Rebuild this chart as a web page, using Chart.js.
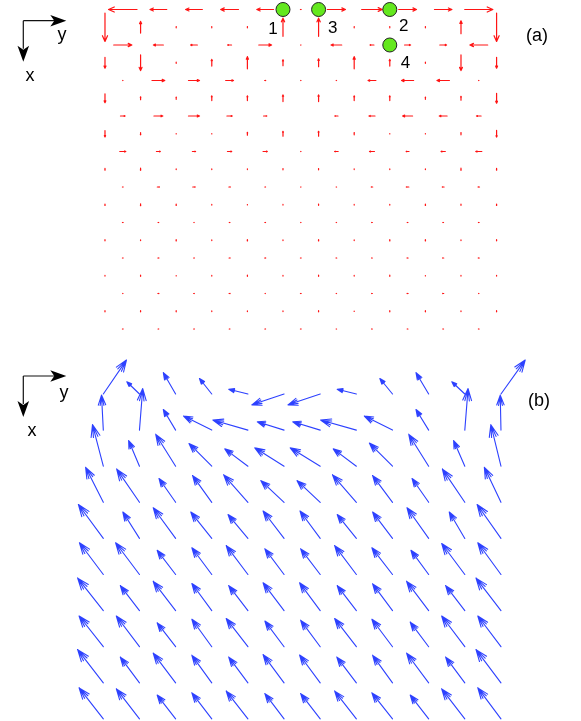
<!DOCTYPE html>
<html>
<head>
<meta charset="utf-8">
<script src="https://cdn.jsdelivr.net/npm/chart.js@4.4.0/dist/chart.umd.min.js"></script>
<style>
html, body { margin: 0; padding: 0; background: #fff; }
body { width: 581px; height: 721px; position: relative; overflow: hidden; font-family: "Liberation Sans", Arial, sans-serif; }
.panel { position: absolute; left: 0; width: 581px; }
#panelA { top: 0; height: 340px; }
#panelB { top: 340px; height: 381px; }
.lbl { position: absolute; font-size: 18px; line-height: 1; color: #000; white-space: nowrap; transform: translateX(-50%); }
.num { position: absolute; font-size: 17px; line-height: 1; color: #000; white-space: nowrap; transform: translate(-50%, -50%); }
</style>
</head>
<body>
<div class="panel" id="panelA"><canvas id="chartA" width="581" height="340"></canvas></div>
<div class="panel" id="panelB"><canvas id="chartB" width="581" height="381"></canvas></div>

<div class="lbl" style="left:62px; top:25px;">y</div>
<div class="lbl" style="left:30px; top:66px;">x</div>
<div class="lbl" style="left:537px; top:26px;">(a)</div>
<div class="lbl" style="left:64px; top:383px;">y</div>
<div class="lbl" style="left:32px; top:421px;">x</div>
<div class="lbl" style="left:539px; top:391px;">(b)</div>

<script>
// (a) staggered grid, lid-driven cavity
// horizontal component (along y) on rows 0,2,4,... at half columns
const vyA = [
    [-0.80, -0.47, -0.47, -0.50, -0.47, 0.02, 0.51, 0.58, 0.50, 0.49, 0.79],
    [0.51, -0.28, -0.19, -0.11, 0.36, 0.01, -0.30, -0.11, 0.17, 0.19, -0.50],
    [0.01, 0.36, 0.31, 0.22, 0.03, 0.01, -0.01, -0.22, -0.34, -0.35, -0.01],
    [0.13, 0.25, 0.31, 0.15, 0.09, 0.00, -0.09, -0.17, -0.28, -0.22, -0.13],
    [0.17, 0.11, 0.09, 0.12, 0.12, 0.01, -0.10, -0.14, -0.08, -0.12, -0.17],
    [0.02, 0.06, 0.07, 0.04, 0.02, 0.01, -0.01, -0.04, -0.07, -0.05, -0.04],
    [0.02, 0.02, 0.01, 0.02, 0.02, 0.01, -0.01, -0.02, -0.02, -0.02, -0.02],
    [0.02, 0.03, 0.02, 0.03, 0.03, 0.02, -0.02, -0.02, -0.03, -0.03, -0.03],
    [0.01, 0.03, 0.02, 0.03, 0.01, 0.02, -0.01, -0.02, -0.03, -0.03, -0.01],
    [0.02, 0.02, 0.02, 0.02, 0.02, 0.02, -0.01, -0.02, -0.02, -0.02, -0.02]
];
// vertical component (along x, downwards) on rows 1,3,5,... at whole columns
const vxA = [
    [0.80, -0.33, -0.03, -0.03, -0.03, -0.51, -0.51, -0.03, -0.03, -0.03, -0.36, 0.80],
    [0.31, 0.44, 0.03, -0.19, -0.34, -0.17, -0.22, -0.34, -0.19, 0.03, 0.44, 0.31],
    [0.25, -0.08, -0.06, -0.13, -0.13, -0.19, -0.19, -0.13, -0.13, -0.06, -0.11, 0.28],
    [0.18, 0.06, 0.01, 0.01, -0.08, -0.14, -0.14, -0.06, 0.01, 0.01, -0.06, 0.19],
    [0.05, 0.06, 0.02, 0.02, -0.02, -0.03, -0.03, -0.02, 0.02, 0.02, 0.06, 0.05],
    [0.04, 0.05, 0.04, 0.02, -0.01, -0.02, -0.03, -0.02, 0.02, 0.04, 0.03, 0.04],
    [0.03, 0.02, 0.04, 0.02, 0.04, 0.02, 0.04, 0.02, 0.04, 0.04, 0.02, 0.03],
    [0.02, 0.03, 0.01, 0.02, 0.03, 0.02, 0.03, 0.02, 0.03, 0.01, 0.02, 0.02],
    [0.03, 0.03, 0.03, 0.02, 0.02, 0.02, 0.03, 0.01, 0.03, 0.03, 0.02, 0.03]
];
// probe points
const markerNames = ['1', '2', '3', '4'];
const markerCols = [5, 8, 6, 8];
const markerRows = [0, 0, 0, 1];

// (b) collocated grid, 10 rows x 12 columns
const vyB = [
    [0.64, -0.35, -0.34, -0.34, -0.53, -0.89, -0.89, -0.53, -0.35, -0.35, -0.36, 0.67],
    [-0.05, 0.09, -0.34, -0.78, -0.97, -0.74, -0.76, -0.99, -0.78, -0.35, 0.09, -0.02],
    [-0.30, -0.30, -0.55, -0.63, -0.64, -0.81, -0.83, -0.64, -0.64, -0.55, -0.31, -0.28],
    [-0.49, -0.63, -0.46, -0.53, -0.67, -0.64, -0.64, -0.66, -0.55, -0.46, -0.62, -0.46],
    [-0.69, -0.46, -0.62, -0.58, -0.55, -0.58, -0.56, -0.53, -0.55, -0.60, -0.43, -0.66],
    [-0.66, -0.66, -0.51, -0.55, -0.60, -0.53, -0.54, -0.60, -0.57, -0.49, -0.64, -0.64],
    [-0.71, -0.53, -0.62, -0.55, -0.53, -0.58, -0.57, -0.53, -0.55, -0.61, -0.53, -0.69],
    [-0.67, -0.64, -0.51, -0.55, -0.60, -0.53, -0.54, -0.60, -0.57, -0.51, -0.64, -0.64],
    [-0.71, -0.53, -0.62, -0.55, -0.53, -0.58, -0.57, -0.54, -0.55, -0.61, -0.53, -0.69],
    [-0.67, -0.64, -0.51, -0.55, -0.60, -0.53, -0.54, -0.60, -0.57, -0.51, -0.64, -0.64]
];
const vxB = [
    [-0.94, -0.34, -0.59, -0.43, -0.13, 0.30, 0.30, -0.13, -0.43, -0.59, -0.34, -0.94],
    [-0.97, -1.15, -0.57, -0.39, -0.28, -0.23, -0.23, -0.28, -0.39, -0.57, -1.15, -0.97],
    [-1.15, -0.71, -0.88, -0.63, -0.48, -0.51, -0.51, -0.48, -0.64, -0.88, -0.71, -1.15],
    [-0.97, -0.92, -0.66, -0.74, -0.76, -0.60, -0.60, -0.76, -0.74, -0.66, -0.92, -0.97],
    [-0.94, -0.73, -0.85, -0.73, -0.66, -0.76, -0.76, -0.66, -0.73, -0.85, -0.73, -0.94],
    [-0.88, -0.88, -0.67, -0.74, -0.80, -0.71, -0.71, -0.80, -0.74, -0.67, -0.86, -0.88],
    [-0.90, -0.69, -0.81, -0.75, -0.69, -0.77, -0.77, -0.69, -0.74, -0.81, -0.69, -0.90],
    [-0.85, -0.85, -0.66, -0.76, -0.78, -0.71, -0.73, -0.78, -0.76, -0.68, -0.85, -0.85],
    [-0.92, -0.71, -0.82, -0.76, -0.71, -0.78, -0.77, -0.71, -0.76, -0.82, -0.71, -0.92],
    [-0.86, -0.83, -0.66, -0.72, -0.77, -0.70, -0.70, -0.77, -0.72, -0.66, -0.83, -0.86]
];

// label placement next to the probe points (px)
const markerOffsets = { '1': [-10, 18.5], '2': [14, 15.5], '3': [14.2, 17.7], '4': [15.7, 16.7] };

function drawArrow(ctx, x0, y0, x1, y1, q) {
    const len = Math.hypot(x1 - x0, y1 - y0);
    if (len < 0.01) return;
    const a = Math.atan2(y1 - y0, x1 - x0);
    const h = len * q.head;
    ctx.beginPath();
    ctx.moveTo(x0, y0);
    ctx.lineTo(x1, y1);
    q.angles.forEach(ang => {
        ctx.moveTo(x1 - h * Math.cos(a - ang), y1 - h * Math.sin(a - ang));
        ctx.lineTo(x1, y1);
        ctx.lineTo(x1 - h * Math.cos(a + ang), y1 - h * Math.sin(a + ang));
    });
    ctx.stroke();
}

// draws every point of a dataset that has a "quiver" setting as an arrow
const quiverPlugin = {
    id: 'quiver',
    beforeDatasetsDraw(chart) {
        const ctx = chart.ctx;
        const xs = chart.scales.x;
        const ys = chart.scales.y;
        chart.data.datasets.forEach(ds => {
            const q = ds.quiver;
            if (!q) return;
            ctx.save();
            ctx.strokeStyle = q.color;
            ctx.lineWidth = q.width;
            ctx.lineCap = 'round';
            ctx.lineJoin = 'round';
            ds.data.forEach(p => {
                const s = q.pivot === 'middle' ? 0.5 : 0;
                const x0 = xs.getPixelForValue(p.x - s * p.vy);
                const y0 = ys.getPixelForValue(p.y - s * p.vx);
                const x1 = xs.getPixelForValue(p.x + (1 - s) * p.vy);
                const y1 = ys.getPixelForValue(p.y + (1 - s) * p.vx);
                drawArrow(ctx, x0, y0, x1, y1, q);
            });
            ctx.restore();
        });
    },
    afterDraw(chart, args, opts) {
        // small x/y orientation sign in the corner
        if (!opts.corner) return;
        const ctx = chart.ctx;
        const [cx, cy] = opts.corner;
        ctx.save();
        ctx.strokeStyle = '#111';
        ctx.fillStyle = '#000';
        ctx.lineWidth = 1.2;
        ctx.beginPath();
        ctx.moveTo(cx, cy);
        ctx.lineTo(cx + 32, cy);
        ctx.moveTo(cx, cy);
        ctx.lineTo(cx, cy + 28);
        ctx.stroke();
        const stealth = (tx, ty, a) => {
            ctx.save();
            ctx.translate(tx, ty);
            ctx.rotate(a);
            ctx.beginPath();
            ctx.moveTo(0, 0);
            ctx.lineTo(-16, -5.8);
            ctx.lineTo(-12, 0);
            ctx.lineTo(-16, 5.8);
            ctx.closePath();
            ctx.fill();
            ctx.restore();
        };
        stealth(cx + 43, cy, 0);
        stealth(cx, cy + 41, Math.PI / 2);
        ctx.restore();

        // number labels of the probe points
        const ds = chart.data.datasets.find(d => d.markerNames);
        if (!ds) return;
        const host = chart.canvas.parentNode;
        ds.data.forEach((p, i) => {
            const name = ds.markerNames[i];
            let el = host.querySelector('.mk' + i);
            if (!el) {
                el = document.createElement('div');
                el.className = 'num mk' + i;
                host.appendChild(el);
            }
            el.textContent = name;
            const off = markerOffsets[name];
            el.style.left = (chart.scales.x.getPixelForValue(p.x) + off[0]) + 'px';
            el.style.top = (chart.scales.y.getPixelForValue(p.y) + off[1]) + 'px';
        });
    }
};

const hArrowsA = [];
vyA.forEach((row, m) => row.forEach((v, k) => hArrowsA.push({ x: k + 0.5, y: m, vy: v, vx: 0 })));
const vArrowsA = [];
vxA.forEach((row, m) => row.forEach((v, c) => vArrowsA.push({ x: c, y: m + 0.5, vy: 0, vx: v })));
const markers = markerNames.map((n, i) => ({ x: markerCols[i], y: markerRows[i] }));

const arrowsB = [];
vyB.forEach((row, i) => row.forEach((v, j) => arrowsB.push({ x: j, y: i, vy: v, vx: vxB[i][j] })));

const redArrows = { color: 'rgb(255, 20, 20)', width: 1.2, head: 0.22, angles: [0.42], pivot: 'middle' };
const blueArrows = { color: 'rgb(45, 65, 255)', width: 1.1, head: 0.3, angles: [0.36, 0.18], pivot: 'tail' };

function baseOptions(xr, yr, corner) {
    return {
        responsive: false,
        animation: false,
        events: [],
        layout: { padding: 0, autoPadding: false },
        plugins: {
            legend: { display: false },
            tooltip: { enabled: false },
            quiver: { corner: corner }
        },
        scales: {
            x: { type: 'linear', display: false, min: xr[0], max: xr[1] },
            y: { type: 'linear', display: false, reverse: true, min: yr[0], max: yr[1] }
        }
    };
}

new Chart(document.getElementById('chartA'), {
    type: 'scatter',
    data: {
        datasets: [
            { label: 'v', data: hArrowsA, pointRadius: 0, quiver: redArrows },
            { label: 'u', data: vArrowsA, pointRadius: 0, quiver: redArrows },
            {
                label: 'probes',
                data: markers,
                markerNames: markerNames,
                pointRadius: 7,
                backgroundColor: 'rgb(100, 232, 30)',
                borderColor: '#222',
                borderWidth: 1
            }
        ]
    },
    options: baseOptions([-2.949, 13.371], [-0.2676, 9.310], [23.3, 20.7]),
    plugins: [quiverPlugin]
});

new Chart(document.getElementById('chartB'), {
    type: 'scatter',
    data: {
        datasets: [
            { label: 'velocity', data: arrowsB, pointRadius: 0, quiver: blueArrows }
        ]
    },
    options: baseOptions([-2.858, 13.214], [-1.496, 9.058], [23.3, 36]),
    plugins: [quiverPlugin]
});
</script>
</body>
</html>
